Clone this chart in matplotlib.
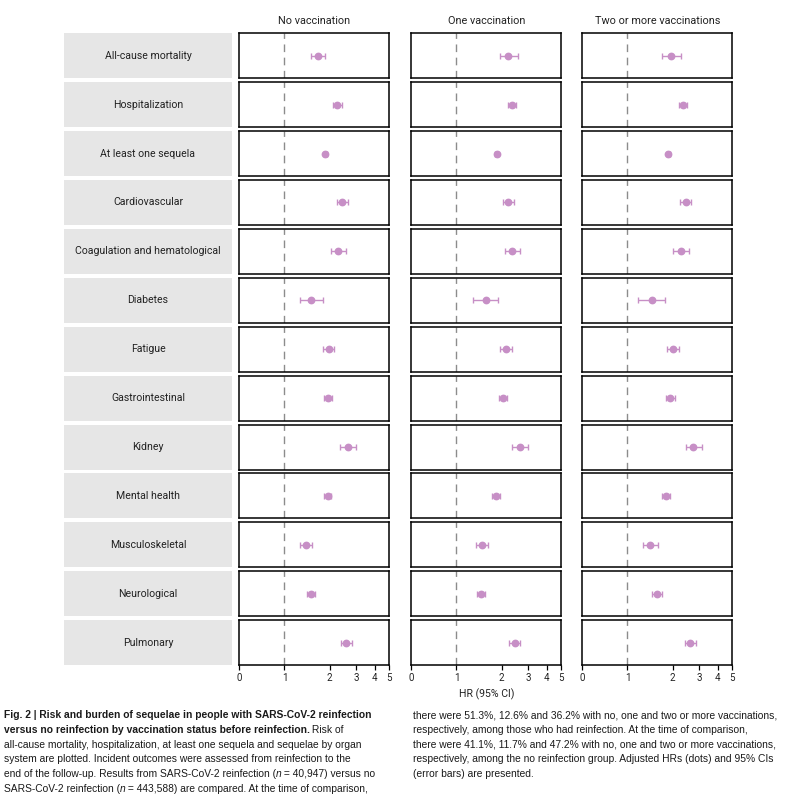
import numpy as np
import matplotlib
matplotlib.use("Agg")
import matplotlib.pyplot as plt
from matplotlib import font_manager

# ---------------- data ----------------
outcomes = ["All-cause mortality", "Hospitalization", "At least one sequela",
            "Cardiovascular", "Coagulation and hematological", "Diabetes",
            "Fatigue", "Gastrointestinal", "Kidney", "Mental health",
            "Musculoskeletal", "Neurological", "Pulmonary"]
groups = ["No vaccination", "One vaccination", "Two or more vaccinations"]

hr_none = [1.67, 2.25, 1.87, 2.42, 2.28, 1.51, 1.97, 1.94, 2.65, 1.94, 1.40, 1.51, 2.58]
lo_none = [1.51, 2.10, 1.83, 2.24, 2.04, 1.26, 1.81, 1.84, 2.34, 1.84, 1.27, 1.42, 2.37]
hi_none = [1.87, 2.41, 1.91, 2.65, 2.56, 1.82, 2.15, 2.08, 3.00, 2.05, 1.53, 1.61, 2.82]

hr_one = [2.22, 2.34, 1.86, 2.21, 2.36, 1.57, 2.15, 2.05, 2.64, 1.83, 1.48, 1.46, 2.44]
lo_one = [1.95, 2.20, 1.82, 2.04, 2.10, 1.29, 1.95, 1.92, 2.34, 1.73, 1.35, 1.38, 2.24]
hi_one = [2.58, 2.50, 1.90, 2.42, 2.65, 1.90, 2.35, 2.18, 3.00, 1.94, 1.63, 1.56, 2.65]

hr_two = [1.96, 2.34, 1.87, 2.44, 2.26, 1.45, 2.01, 1.92, 2.75, 1.81, 1.42, 1.57, 2.61]
lo_two = [1.70, 2.21, 1.83, 2.24, 2.01, 1.18, 1.84, 1.81, 2.45, 1.70, 1.27, 1.46, 2.41]
hi_two = [2.27, 2.50, 1.91, 2.65, 2.56, 1.79, 2.20, 2.07, 3.12, 1.91, 1.59, 1.69, 2.86]

xticks = [0, 1, 2, 3, 4, 5]
xticklabels = ["0", "1", "2", "3", "4", "5"]
xlabel = "HR (95% CI)"

series = [(hr_none, lo_none, hi_none), (hr_one, lo_one, hi_one), (hr_two, lo_two, hi_two)]

# ---------------- style ----------------
avail = {f.name for f in font_manager.fontManager.ttflist}
sans = "Roboto" if "Roboto" in avail else "DejaVu Sans"
cap_font = "Liberation Sans Narrow" if "Liberation Sans Narrow" in avail else "Liberation Sans"
plt.rcParams['font.family'] = [sans, 'DejaVu Sans']

PT = '#c78fc6'
TXT = '#222222'
W, H = 792, 809
fig = plt.figure(figsize=(W / 100, H / 100), dpi=100)

LN2 = np.log(2.0)
def fwd(x):
    x = np.asarray(x, dtype=float)
    return np.where(x >= 1, np.log(np.maximum(x, 1e-12)), (x - 1) * LN2)
def inv(y):
    y = np.asarray(y, dtype=float)
    return np.where(y >= 0, np.exp(np.minimum(y, 50)), y / LN2 + 1)

def fx(px):
    return px / W
def fy(py):
    return 1 - py / H

top0 = 33.3
pitch = 48.9
rh = 45.0
lab_left, lab_w = 64, 168
pan_lefts = [239.3, 411.3, 582.3]
pan_w = 150.0
n = len(outcomes)

for i, name in enumerate(outcomes):
    top = top0 + i * pitch
    la = fig.add_axes([fx(lab_left), fy(top + rh), lab_w / W, rh / H])
    la.set_facecolor('#e6e6e6')
    for s in la.spines.values():
        s.set_visible(False)
    la.set_xticks([]); la.set_yticks([])
    la.text(0.5, 0.5, name, ha='center', va='center', fontsize=7.6, color=TXT,
            transform=la.transAxes)
    for j, (hr, lo, hi) in enumerate(series):
        ax = fig.add_axes([fx(pan_lefts[j]), fy(top + rh), pan_w / W, rh / H])
        ax.set_xscale('function', functions=(fwd, inv))
        ax.set_xlim(0, 5)
        ax.set_ylim(-1, 1)
        ax.axvline(1, color='#8c8c8c', lw=1.0, dashes=(5.5, 4), zorder=1)
        ax.errorbar([hr[i]], [0], xerr=[[hr[i] - lo[i]], [hi[i] - hr[i]]],
                    fmt='o', ms=4.6, color=PT, ecolor=PT, elinewidth=1.0,
                    capsize=2.2, capthick=1.0, zorder=3)
        for s in ax.spines.values():
            s.set_linewidth(1.1)
            s.set_color('black')
        ax.set_yticks([])
        ax.set_xticks(xticks)
        ax.minorticks_off()
        if i == n - 1:
            ax.set_xticklabels(xticklabels)
            ax.tick_params(axis='x', length=3.5, width=0.9, pad=2.5,
                           labelsize=7, colors='black', labelcolor=TXT)
            if j == 1:
                ax.set_xlabel(xlabel, fontsize=7.6, color=TXT, labelpad=4)
        else:
            ax.tick_params(axis='x', length=0, labelbottom=False)
        if i == 0:
            ax.set_title(groups[j], fontsize=7.8, color=TXT, pad=7)

# ---------------- caption ----------------
left_lines = [
    [("Fig. 2 | Risk and burden of sequelae in people with SARS-CoV-2 reinfection", "bold")],
    [("versus no reinfection by vaccination status before reinfection.", "bold"), (" Risk of", "normal")],
    [("all-cause mortality, hospitalization, at least one sequela and sequelae by organ", "normal")],
    [("system are plotted. Incident outcomes were assessed from reinfection to the", "normal")],
    [("end of the follow-up. Results from SARS-CoV-2 reinfection (", "normal"), ("n", "italic"),
     (" = 40,947) versus no", "normal")],
    [("SARS-CoV-2 reinfection (", "normal"), ("n", "italic"), (" = 443,588) are compared. At the time of comparison,", "normal")],
]
right_lines = [
    [("there were 51.3%, 12.6% and 36.2% with no, one and two or more vaccinations,", "normal")],
    [("respectively, among those who had reinfection. At the time of comparison,", "normal")],
    [("there were 41.1%, 11.7% and 47.2% with no, one and two or more vaccinations,", "normal")],
    [("respectively, among the no reinfection group. Adjusted HRs (dots) and 95% CIs", "normal")],
    [("(error bars) are presented.", "normal")],
]

fig.canvas.draw()
renderer = fig.canvas.get_renderer()

def seg_kw(style, fs):
    kw = dict(fontsize=fs, color='#1a1a1a', family=[cap_font, 'DejaVu Sans'],
              ha='left', va='center')
    if style == 'bold':
        kw['fontweight'] = 'bold'
    if style == 'italic':
        kw['fontstyle'] = 'italic'
    return kw

def line_width(segs, fs):
    w = 0
    for txt, style in segs:
        t = fig.text(0, 0, txt, **seg_kw(style, fs))
        w += t.get_window_extent(renderer=renderer).width
        t.remove()
    return w

def draw_lines(lines, x0, y0, dy, fs):
    for k, segs in enumerate(lines):
        x = x0
        y = y0 + k * dy
        for txt, style in segs:
            t = fig.text(fx(x), fy(y), txt, **seg_kw(style, fs))
            bb = t.get_window_extent(renderer=renderer)
            x += bb.width

base = 10.0
fs_left = base * 388.0 / line_width(left_lines[0], base)
fs_right = base * 367.0 / line_width(right_lines[0], base)
fs_cap = min(fs_left, fs_right)

draw_lines(left_lines, 3.5, 715.5, 14.6, fs_cap)
draw_lines(right_lines, 413, 715.5, 14.6, fs_cap)

fig.savefig("out.png", dpi=100)
